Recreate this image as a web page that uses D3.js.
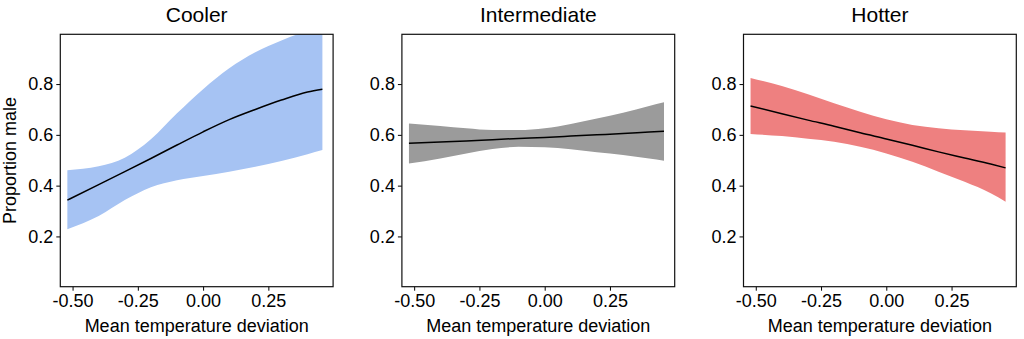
<!DOCTYPE html>
<html>
<head>
<meta charset="utf-8">
<script src="https://cdn.jsdelivr.net/npm/d3@7"></script>
<style>
  html, body { margin: 0; padding: 0; background: #fff; }
  svg { display: block; font-family: "Liberation Sans", Arial, Helvetica, sans-serif; }
</style>
</head>
<body>
<svg id="chart" width="1024" height="339"></svg>
<script>
// ---- data ----
const panelTitles = ["Cooler", "Intermediate", "Hotter"];
const panelColors = ["#a6c3f3", "#9b9b9b", "#ee8080"];
const xValues = [-0.52, -0.4, -0.3, -0.2, -0.1, 0, 0.1, 0.2, 0.3, 0.4, 0.457];

const coolerFit   = [0.343, 0.404, 0.455, 0.507, 0.560, 0.612, 0.660, 0.700, 0.737, 0.769, 0.780];
const coolerUpper = [0.461, 0.476, 0.510, 0.583, 0.685, 0.780, 0.862, 0.925, 0.972, 1.010, 1.030];
const coolerLower = [0.228, 0.280, 0.343, 0.394, 0.421, 0.438, 0.455, 0.474, 0.497, 0.524, 0.540];

const interFit   = [0.567, 0.572, 0.576, 0.581, 0.586, 0.590, 0.595, 0.600, 0.605, 0.611, 0.614];
const interUpper = [0.645, 0.635, 0.626, 0.619, 0.619, 0.626, 0.643, 0.664, 0.687, 0.714, 0.728];
const interLower = [0.487, 0.507, 0.527, 0.544, 0.553, 0.551, 0.543, 0.531, 0.521, 0.507, 0.498];

const hotFit   = [0.714, 0.683, 0.658, 0.634, 0.608, 0.584, 0.559, 0.533, 0.509, 0.485, 0.470];
const hotUpper = [0.824, 0.792, 0.760, 0.724, 0.691, 0.661, 0.639, 0.626, 0.618, 0.612, 0.609];
const hotLower = [0.603, 0.595, 0.585, 0.573, 0.553, 0.527, 0.494, 0.455, 0.415, 0.370, 0.337];

const xTicks = [-0.5, -0.25, 0, 0.25];
const xTickLabels = ["-0.50", "-0.25", "0.00", "0.25"];
const yTicks = [0.2, 0.4, 0.6, 0.8];
const yTickLabels = ["0.2", "0.4", "0.6", "0.8"];
const xAxisTitle = "Mean temperature deviation";
const yAxisTitle = "Proportion male";

const fits = [coolerFit, interFit, hotFit];
const uppers = [coolerUpper, interUpper, hotUpper];
const lowers = [coolerLower, interLower, hotLower];

// ---- layout ----
const svg = d3.select("#chart");
const panelTop = 34.3, panelBottom = 286.7;
const panelWidth = 272.8, firstLeft = 60.3, panelStep = 341.6;

const y = d3.scaleLinear().domain([0.002, 0.996]).range([panelBottom, panelTop]);

panelTitles.forEach((title, i) => {
  const left = firstLeft + i * panelStep;
  const x = d3.scaleLinear().domain([-0.547, 0.498]).range([0, panelWidth]);
  const g = svg.append("g").attr("transform", `translate(${left},0)`);

  const clipId = "clip" + i;
  g.append("clipPath").attr("id", clipId)
    .append("rect").attr("x", 0).attr("y", panelTop).attr("width", panelWidth).attr("height", panelBottom - panelTop);

  const rows = xValues.map((xv, k) => ({ x: xv, fit: fits[i][k], lo: lowers[i][k], hi: uppers[i][k] }));

  const area = d3.area()
    .x(d => x(d.x)).y0(d => y(d.lo)).y1(d => y(d.hi))
    .curve(d3.curveMonotoneX);
  const line = d3.line()
    .x(d => x(d.x)).y(d => y(d.fit))
    .curve(d3.curveMonotoneX);

  const plot = g.append("g").attr("clip-path", `url(#${clipId})`);
  plot.append("path").datum(rows).attr("d", area).attr("fill", panelColors[i]);
  plot.append("path").datum(rows).attr("d", line)
    .attr("fill", "none").attr("stroke", "#000").attr("stroke-width", 1.5);

  // axes
  const xAxis = d3.axisBottom(x).tickValues(xTicks)
    .tickFormat((d, k) => xTickLabels[k]).tickSize(4).tickPadding(4).tickSizeOuter(0);
  const gx = g.append("g").attr("transform", `translate(0,${panelBottom})`).call(xAxis);
  gx.select(".domain").remove();
  gx.selectAll("text").attr("font-size", 18).attr("fill", "#000").attr("font-family", null);
  gx.selectAll("line").attr("stroke", "#000");

  const yAxis = d3.axisLeft(y).tickValues(yTicks)
    .tickFormat((d, k) => yTickLabels[k]).tickSize(4).tickPadding(3).tickSizeOuter(0);
  const gy = g.append("g").call(yAxis);
  gy.select(".domain").remove();
  gy.selectAll("text").attr("font-size", 18).attr("fill", "#000").attr("font-family", null);
  gy.selectAll("line").attr("stroke", "#000");

  // frame
  g.append("rect").attr("x", 0).attr("y", panelTop)
    .attr("width", panelWidth).attr("height", panelBottom - panelTop)
    .attr("fill", "none").attr("stroke", "#111").attr("stroke-width", 1.2);

  // titles
  g.append("text").attr("x", panelWidth / 2).attr("y", 22.3)
    .attr("text-anchor", "middle").attr("font-size", 21).attr("fill", "#000").text(title);
  g.append("text").attr("x", panelWidth / 2).attr("y", 331.5)
    .attr("text-anchor", "middle").attr("font-size", 18).attr("fill", "#000").text(xAxisTitle);
});

svg.append("text")
  .attr("transform", `translate(15.5,${(panelTop + panelBottom) / 2}) rotate(-90)`)
  .attr("text-anchor", "middle").attr("font-size", 18).attr("fill", "#000")
  .text(yAxisTitle);
</script>
</body>
</html>
